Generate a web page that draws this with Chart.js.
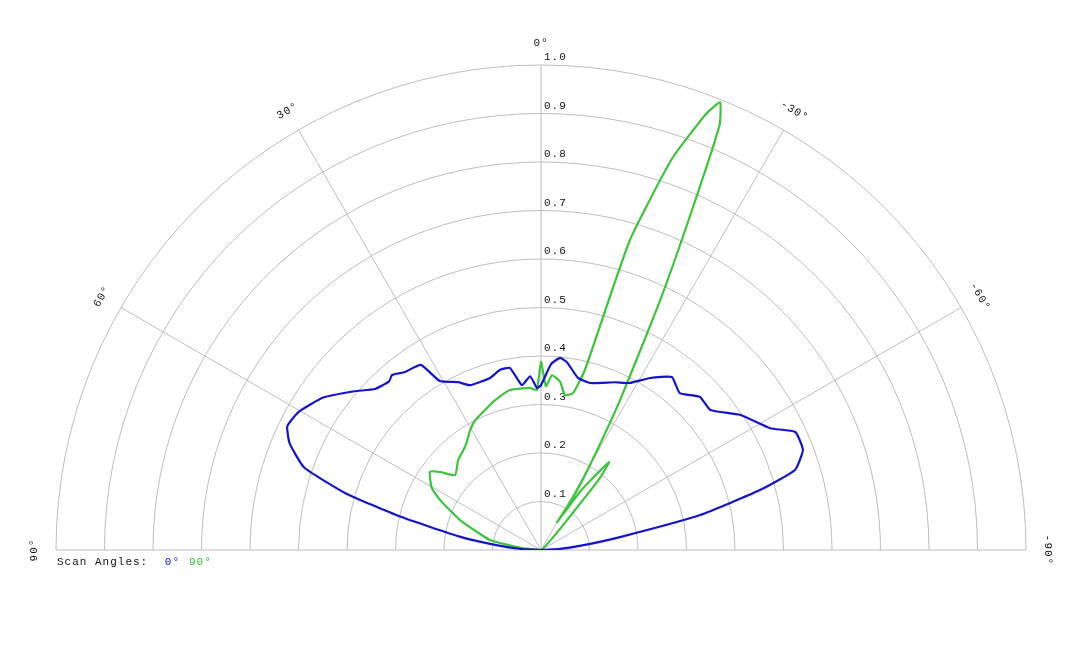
<!DOCTYPE html>
<html><head><meta charset="utf-8">
<script src="https://cdn.jsdelivr.net/npm/chart.js@4"></script>
<style>html,body{margin:0;background:#fff}#wrap{width:1080px;height:648px}</style>
</head><body><div id="wrap"><canvas id="c"></canvas></div>
<script>
// scan angle 0 deg (blue): angle in degrees (positive = left), normalized response
const blueAngles = [90, 87, 84, 80.7, 76.6, 73.8, 70.8, 67, 64, 60.3, 55, 49.6, 45.9, 42, 40.4, 37.4, 33, 30.9, 26.3, 23.3, 16.5, 12.8, 9.7, 6.6, 3.6, 1.4, 0, -3.1, -5.7, -8, -12.1, -16.4, -23.8, -28, -32.4, -37.1, -41.5, -46.1, -50.4, -55.8, -62, -65.1, -69.1, -72.5, -74.7, -77.6, -80.7, -84, -87, -90];
const blueR = [0, 0.04, 0.09, 0.17, 0.30, 0.42, 0.517, 0.563, 0.582, 0.575, 0.548, 0.505, 0.477, 0.468, 0.474, 0.462, 0.455, 0.406, 0.386, 0.370, 0.370, 0.381, 0.381, 0.342, 0.359, 0.334, 0.34, 0.384, 0.398, 0.39, 0.363, 0.359, 0.378, 0.39, 0.42, 0.447, 0.432, 0.455, 0.453, 0.496, 0.535, 0.578, 0.578, 0.549, 0.468, 0.336, 0.165, 0.08, 0.035, 0];
// scan angle 90 deg (green)
const greenAngles = [90, 84, 78.9, 69.7, 63.7, 60.4, 54.9, 52.3, 48.9, 42.7, 36, 30.6, 26.9, 21.8, 17, 11, 3.9, 1.5, 0, -1.7, -3.6, -6.5, -8.8, -11.5, -13.7, -16, -18.5, -20.7, -21.8, -22.8, -24, -25.5, -27.8, -30, -31.5, -30, -34, -37.7, -39.3, -42, -50, -90];
const greenR = [0, 0.04, 0.107, 0.178, 0.232, 0.259, 0.280, 0.263, 0.235, 0.252, 0.265, 0.287, 0.30, 0.311, 0.323, 0.336, 0.335, 0.33, 0.388, 0.338, 0.361, 0.349, 0.323, 0.33, 0.382, 0.665, 0.85, 0.96, 0.994, 0.95, 0.76, 0.571, 0.35, 0.2, 0.12, 0.066, 0.15, 0.229, 0.192, 0.06, 0.01, 0];
const ringTicks = [0.1, 0.2, 0.3, 0.4, 0.5, 0.6, 0.7, 0.8, 0.9, 1.0];
const spokeAngles = [90, 60, 30, 0, -30, -60, -90];
const angleLabels = ['90°', '60°', '30°', '0°', '-30°', '-60°', '-90°'];

function toXY(angles, rs) {
  return angles.map((a, i) => {
    const t = a * Math.PI / 180;
    return { x: -rs[i] * Math.sin(t), y: rs[i] * Math.cos(t) };
  });
}

const mono = '"Liberation Mono", "DejaVu Sans Mono", monospace';

const polarGrid = {
  id: 'polarGrid',
  beforeDatasetsDraw(chart) {
    const { ctx, scales: { x, y } } = chart;
    const cx = x.getPixelForValue(0), cy = y.getPixelForValue(0);
    const R = x.getPixelForValue(1) - cx;
    ctx.save();
    ctx.strokeStyle = '#bdbdbd';
    ctx.lineWidth = 1;
    ringTicks.forEach(v => {
      ctx.beginPath();
      ctx.arc(cx, cy, v * R, Math.PI, 2 * Math.PI);
      ctx.stroke();
    });
    spokeAngles.forEach(a => {
      const t = a * Math.PI / 180;
      ctx.beginPath();
      ctx.moveTo(cx, cy);
      ctx.lineTo(cx - R * Math.sin(t), cy - R * Math.cos(t));
      ctx.stroke();
    });
    ctx.fillStyle = '#111';
    ctx.font = '11px ' + mono;
    ctx.letterSpacing = '1px';
    ctx.textAlign = 'left';
    ctx.textBaseline = 'bottom';
    ringTicks.forEach(v => {
      ctx.fillText(v.toFixed(1), cx + 3, cy - v * R - 2);
    });
    ctx.textAlign = 'center';
    ctx.textBaseline = 'middle';
    spokeAngles.forEach((a, i) => {
      const t = a * Math.PI / 180;
      const rr = R + 22;
      ctx.save();
      ctx.translate(cx - rr * Math.sin(t), cy - rr * Math.cos(t));
      ctx.rotate(-t);
      ctx.fillText(angleLabels[i], 0, 0);
      ctx.restore();
    });
    ctx.textAlign = 'left';
    ctx.textBaseline = 'middle';
    let px = cx - R + 1;
    const py = cy + 12;
    const parts = [['Scan Angles: ', '#111'], ['0°', '#1010cc'], ['90°', '#33bb33']];
    parts.forEach(([s, c]) => {
      ctx.fillStyle = c;
      ctx.fillText(s, px, py);
      px += ctx.measureText(s).width + 9;
    });
    ctx.restore();
  }
};

new Chart(document.getElementById('c'), {
  type: 'scatter',
  data: {
    datasets: [
      { label: '0°', data: toXY(blueAngles, blueR), borderColor: '#1414c8', borderWidth: 2.2, showLine: true, pointRadius: 0, tension: 0.15 },
      { label: '90°', data: toXY(greenAngles, greenR), borderColor: '#3cc43c', borderWidth: 2.2, showLine: true, pointRadius: 0, tension: 0.15 }
    ]
  },
  options: {
    responsive: true,
    maintainAspectRatio: false,
    animation: false,
    layout: { padding: { left: 56, right: 54, top: 65, bottom: 98 } },
    scales: {
      x: { display: false, min: -1, max: 1 },
      y: { display: false, min: 0, max: 1 }
    },
    plugins: { legend: { display: false }, tooltip: { enabled: false } }
  },
  plugins: [polarGrid]
});
</script>
</body></html>
